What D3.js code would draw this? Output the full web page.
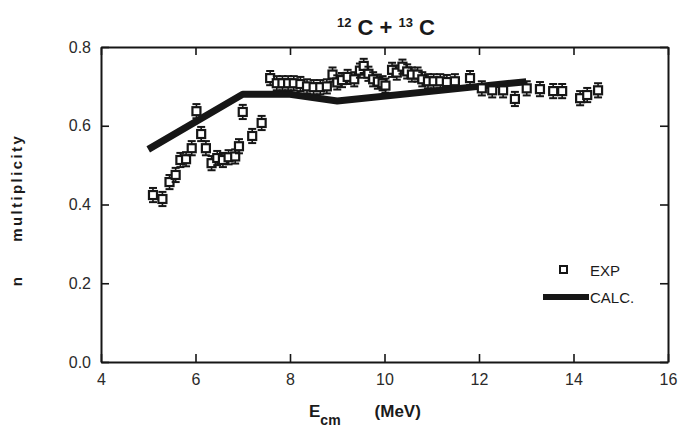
<!DOCTYPE html>
<html>
<head>
<meta charset="utf-8">
<script src="https://cdn.jsdelivr.net/npm/d3@7"></script>
<style>
  body { margin: 0; background: #fff; }
  svg { display: block; }
  text { font-family: "Liberation Sans", Arial, sans-serif; fill: #1a1a1a; }
</style>
</head>
<body>
<svg id="chart" width="687" height="433"></svg>
<script>
// Measured neutron multiplicity vs centre-of-mass energy
const expEnergy = [5.10, 5.30, 5.45, 5.58, 5.68, 5.80, 5.92, 6.02, 6.12, 6.22, 6.34, 6.46, 6.58, 6.70, 6.84, 6.92, 7.00, 7.20, 7.40,
  7.58, 7.72, 7.84, 7.96, 8.08, 8.22, 8.36, 8.50, 8.64, 8.78, 8.90, 9.00, 9.10, 9.22, 9.36, 9.48, 9.56, 9.66, 9.76, 9.86, 9.96,
  10.02, 10.16, 10.26, 10.38, 10.48, 10.58, 10.70, 10.80, 10.92, 11.04, 11.18, 11.32, 11.49, 11.81, 12.06, 12.28, 12.51, 12.76,
  13.01, 13.29, 13.57, 13.76, 14.14, 14.29, 14.52];
const expMult = [0.424, 0.414, 0.457, 0.475, 0.513, 0.515, 0.543, 0.637, 0.579, 0.543, 0.505, 0.518, 0.513, 0.520, 0.522, 0.548, 0.635, 0.574, 0.607,
  0.721, 0.708, 0.708, 0.708, 0.708, 0.706, 0.700, 0.698, 0.698, 0.700, 0.730, 0.710, 0.716, 0.724, 0.718, 0.740, 0.752, 0.732, 0.718, 0.712, 0.708,
  0.702, 0.742, 0.735, 0.750, 0.738, 0.730, 0.730, 0.718, 0.713, 0.713, 0.713, 0.711, 0.713, 0.721, 0.695, 0.690, 0.690, 0.668,
  0.695, 0.693, 0.688, 0.688, 0.670, 0.678, 0.690];
const expErr = 0.018;

// Model calculation
const calcEnergy = [5.0, 7.0, 8.0, 9.0, 12.0, 13.0];
const calcMult = [0.540, 0.680, 0.680, 0.663, 0.700, 0.712];

const xTicks = [4, 6, 8, 10, 12, 14, 16];
const yTicks = [0.0, 0.2, 0.4, 0.6, 0.8];

const ink = "#161616";
const svg = d3.select("#chart");
const m = { left: 101, right: 668, top: 47, bottom: 362 };

const x = d3.scaleLinear().domain([4, 16]).range([m.left, m.right]);
const y = d3.scaleLinear().domain([0, 0.8]).range([m.bottom, m.top]);

// Frame with inward ticks on all four sides
const tickLen = 8;
svg.append("g").attr("transform", `translate(0,${m.bottom})`)
  .call(d3.axisBottom(x).tickValues(xTicks).tickSizeInner(-tickLen).tickSizeOuter(0).tickPadding(12).tickFormat(d3.format("d")))
  .call(g => g.selectAll("text").attr("font-size", 16).attr("dy", "0.71em"));
svg.append("g").attr("transform", `translate(0,${m.top})`)
  .call(d3.axisTop(x).tickValues(xTicks).tickSizeInner(-tickLen).tickSizeOuter(0).tickFormat(""));
svg.append("g").attr("transform", `translate(${m.left},0)`)
  .call(d3.axisLeft(y).tickValues(yTicks).tickSizeInner(-tickLen).tickSizeOuter(0).tickPadding(10).tickFormat(d3.format(".1f")))
  .call(g => g.selectAll("text").attr("font-size", 16));
svg.append("g").attr("transform", `translate(${m.right},0)`)
  .call(d3.axisRight(y).tickValues(yTicks).tickSizeInner(-tickLen).tickSizeOuter(0).tickFormat(""));
svg.selectAll(".domain").attr("stroke", ink).attr("stroke-width", 2);
svg.selectAll(".tick line").attr("stroke", ink).attr("stroke-width", 1.6);
svg.selectAll(".tick text").style("fill", "#2a2a2a");

// Calculation curve
const line = d3.line().x(d => x(d[0])).y(d => y(d[1]));
svg.append("path")
  .datum(calcEnergy.map((e, i) => [e, calcMult[i]]))
  .attr("d", line)
  .attr("fill", "none").attr("stroke", ink).attr("stroke-width", 7)
  .attr("stroke-linejoin", "round");

// Experimental points with error bars
const pts = expEnergy.map((e, i) => ({ e, v: expMult[i] }));
const capW = 4, sq = 8;
const pg = svg.append("g").attr("stroke", ink).attr("fill", "none");
pts.forEach(p => {
  const cx = x(p.e), cy = y(p.v), y1 = y(p.v + expErr), y2 = y(p.v - expErr);
  pg.append("line").attr("x1", cx).attr("x2", cx).attr("y1", y1).attr("y2", y2).attr("stroke-width", 1.6);
  pg.append("line").attr("x1", cx - capW).attr("x2", cx + capW).attr("y1", y1).attr("y2", y1).attr("stroke-width", 2);
  pg.append("line").attr("x1", cx - capW).attr("x2", cx + capW).attr("y1", y2).attr("y2", y2).attr("stroke-width", 2);
  pg.append("rect").attr("x", cx - sq / 2).attr("y", cy - sq / 2).attr("width", sq).attr("height", sq)
    .attr("fill", "#fff").attr("stroke-width", 2.2);
});

// Legend
const lg = svg.append("g");
lg.append("rect").attr("x", 560).attr("y", 266).attr("width", 7).attr("height", 7)
  .attr("fill", "#fff").attr("stroke", ink).attr("stroke-width", 2);
lg.append("text").attr("x", 590).attr("y", 276).attr("font-size", 15).text("EXP");
lg.append("line").attr("x1", 543).attr("x2", 589).attr("y1", 297).attr("y2", 297)
  .attr("stroke", ink).attr("stroke-width", 6);
lg.append("text").attr("x", 590).attr("y", 303).attr("font-size", 15).text("CALC.");

// Title
const t = svg.append("text").attr("x", 386).attr("y", 35).attr("text-anchor", "middle")
  .attr("font-size", 22).attr("font-weight", "bold").attr("xml:space", "preserve");
t.append("tspan").attr("font-size", 13).attr("dy", -8).text("12");
t.append("tspan").attr("dy", 8).text(" C + ");
t.append("tspan").attr("font-size", 13).attr("dy", -8).text("13");
t.append("tspan").attr("dy", 8).text(" C");

// Axis titles
svg.append("text").attr("transform", "translate(22,210) rotate(-90)")
  .attr("text-anchor", "middle").attr("font-size", 15).attr("font-weight", "bold")
  .attr("letter-spacing", 2.4).attr("xml:space", "preserve").text("n     multiplicity");

const xl = svg.append("text").attr("x", 309).attr("y", 417).attr("font-size", 17).attr("font-weight", "bold");
xl.append("tspan").text("E");
xl.append("tspan").attr("font-size", 14).attr("dy", 8).text("cm");
xl.append("tspan").attr("dy", -8).attr("dx", 34).text("(MeV)");
</script>
</body>
</html>
